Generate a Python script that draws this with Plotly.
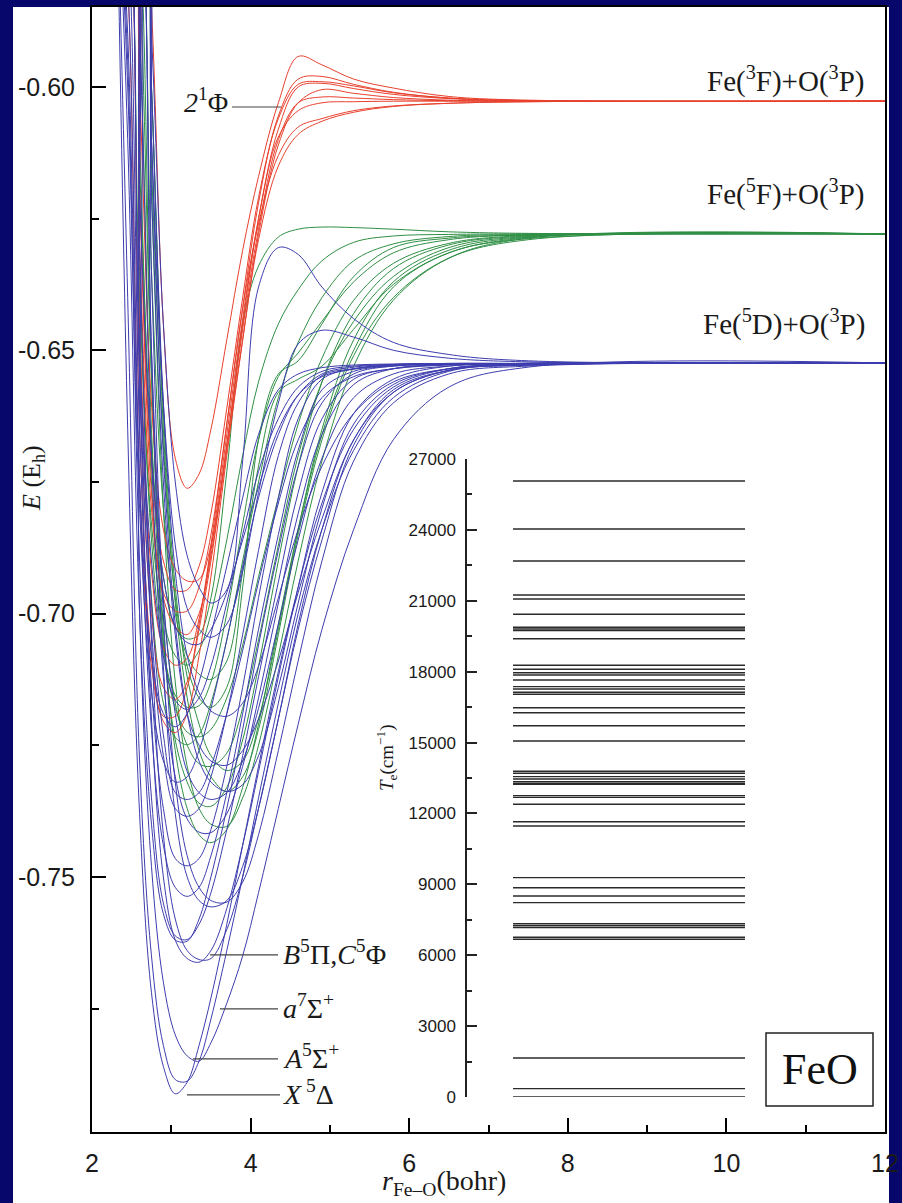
import plotly.graph_objects as go

# ---------------- data ----------------
R_GRID = [2.3, 2.45, 2.6, 2.75, 2.9, 3.05, 3.2, 3.35, 3.5, 3.7, 3.9, 4.1, 4.35, 4.6, 4.9, 5.3, 5.8, 6.5, 7.5, 12.0]

BLUE_CURVES = [
    [-0.55, -0.665, -0.738, -0.772, -0.786, -0.7912, -0.789, -0.782, -0.773, -0.759, -0.744, -0.729, -0.711, -0.695, -0.679, -0.665, -0.657, -0.6535, -0.6527, -0.6524],
    [-0.55, -0.640, -0.728, -0.765, -0.782, -0.7885, -0.7888, -0.785, -0.777, -0.764, -0.750, -0.735, -0.717, -0.700, -0.684, -0.669, -0.659, -0.654, -0.6528, -0.6524],
    [-0.55, -0.55, -0.700, -0.748, -0.770, -0.780, -0.784, -0.785, -0.7815, -0.774, -0.765, -0.753, -0.737, -0.721, -0.703, -0.684, -0.667, -0.657, -0.6532, -0.6524],
    [-0.55, -0.55, -0.655, -0.720, -0.750, -0.762, -0.7655, -0.7662, -0.764, -0.756, -0.744, -0.730, -0.712, -0.695, -0.677, -0.662, -0.6555, -0.653, -0.6526, -0.6524],
    [-0.55, -0.55, -0.630, -0.705, -0.742, -0.758, -0.764, -0.7657, -0.7655, -0.760, -0.750, -0.737, -0.720, -0.703, -0.686, -0.668, -0.658, -0.6538, -0.6527, -0.6524],
    [-0.55, -0.610, -0.700, -0.740, -0.757, -0.7620, -0.7622, -0.758, -0.750, -0.737, -0.722, -0.706, -0.688, -0.672, -0.660, -0.6545, -0.6530, -0.6526, -0.6525, -0.6524],
    [-0.55, -0.595, -0.690, -0.735, -0.755, -0.7612, -0.7619, -0.759, -0.753, -0.741, -0.727, -0.712, -0.694, -0.677, -0.663, -0.6555, -0.6535, -0.6527, -0.6525, -0.6524],
    [-0.55, -0.55, -0.56, -0.650, -0.710, -0.738, -0.750, -0.7545, -0.7557, -0.7545, -0.748, -0.737, -0.720, -0.702, -0.684, -0.667, -0.658, -0.6538, -0.6528, -0.6524],
    [-0.55, -0.55, -0.55, -0.635, -0.700, -0.732, -0.746, -0.752, -0.7545, -0.7548, -0.751, -0.742, -0.726, -0.709, -0.690, -0.671, -0.660, -0.6545, -0.6530, -0.6524],
    [-0.55, -0.58, -0.675, -0.722, -0.744, -0.7520, -0.7537, -0.752, -0.746, -0.734, -0.719, -0.703, -0.685, -0.669, -0.6575, -0.6540, -0.6530, -0.6526, -0.6525, -0.6524],
    [-0.55, -0.57, -0.665, -0.714, -0.737, -0.7465, -0.7479, -0.7465, -0.741, -0.729, -0.714, -0.697, -0.678, -0.663, -0.6555, -0.6535, -0.6528, -0.6526, -0.6525, -0.6524],
    [-0.55, -0.55, -0.59, -0.670, -0.712, -0.731, -0.739, -0.7415, -0.7416, -0.738, -0.729, -0.716, -0.698, -0.681, -0.666, -0.6565, -0.6535, -0.6527, -0.6525, -0.6524],
    [-0.55, -0.56, -0.655, -0.703, -0.727, -0.7370, -0.7385, -0.737, -0.731, -0.719, -0.704, -0.688, -0.670, -0.660, -0.6548, -0.6535, -0.6528, -0.6526, -0.6525, -0.6524],
    [-0.55, -0.55, -0.650, -0.698, -0.723, -0.7340, -0.7353, -0.734, -0.729, -0.719, -0.707, -0.694, -0.679, -0.667, -0.659, -0.6550, -0.6535, -0.6528, -0.6525, -0.6524],
    [-0.55, -0.55, -0.56, -0.650, -0.697, -0.719, -0.730, -0.734, -0.7353, -0.734, -0.728, -0.718, -0.702, -0.686, -0.6705, -0.6590, -0.6545, -0.6530, -0.6526, -0.6524],
    [-0.55, -0.55, -0.55, -0.61, -0.670, -0.702, -0.719, -0.728, -0.732, -0.7338, -0.7325, -0.727, -0.714, -0.698, -0.680, -0.664, -0.6565, -0.6535, -0.6527, -0.6524],
    [-0.55, -0.60, -0.680, -0.715, -0.728, -0.7320, -0.731, -0.726, -0.718, -0.705, -0.691, -0.678, -0.666, -0.6585, -0.6545, -0.6532, -0.6527, -0.6525, -0.6525, -0.6524],
    [-0.55, -0.55, -0.55, -0.620, -0.675, -0.704, -0.719, -0.725, -0.728, -0.7288, -0.726, -0.720, -0.709, -0.696, -0.682, -0.667, -0.6575, -0.6538, -0.6528, -0.6524],
    [-0.55, -0.59, -0.675, -0.708, -0.719, -0.7215, -0.719, -0.713, -0.704, -0.691, -0.678, -0.666, -0.6575, -0.6545, -0.6533, -0.6528, -0.6526, -0.6525, -0.6525, -0.6524],
    [-0.55, -0.55, -0.55, -0.600, -0.660, -0.692, -0.708, -0.715, -0.7185, -0.7195, -0.717, -0.710, -0.697, -0.684, -0.672, -0.662, -0.6560, -0.6535, -0.6527, -0.6524],
    [-0.55, -0.55, -0.55, -0.590, -0.645, -0.675, -0.689, -0.695, -0.698, -0.6955, -0.671, -0.638, -0.6305, -0.6318, -0.6380, -0.6440, -0.6485, -0.6508, -0.6520, -0.6524],
    [-0.55, -0.55, -0.55, -0.610, -0.660, -0.687, -0.699, -0.703, -0.7045, -0.702, -0.692, -0.677, -0.660, -0.6488, -0.6462, -0.6475, -0.6500, -0.6515, -0.6522, -0.6524],
    [-0.55, -0.56, -0.650, -0.690, -0.708, -0.7165, -0.7182, -0.716, -0.710, -0.698, -0.685, -0.673, -0.663, -0.6570, -0.6540, -0.6530, -0.6527, -0.6525, -0.6525, -0.6524],
    [-0.55, -0.55, -0.620, -0.670, -0.693, -0.7025, -0.7055, -0.7058, -0.703, -0.696, -0.686, -0.676, -0.665, -0.6585, -0.6550, -0.6536, -0.6529, -0.6526, -0.6525, -0.6524],
]

GREEN_CURVES = [
    [-0.55, -0.55, -0.615, -0.668, -0.693, -0.7025, -0.7048, -0.704, -0.697, -0.673, -0.645, -0.634, -0.6285, -0.6270, -0.6266, -0.6267, -0.6270, -0.6275, -0.6278, -0.6279],
    [-0.55, -0.55, -0.57, -0.655, -0.703, -0.726, -0.737, -0.742, -0.7435, -0.741, -0.733, -0.721, -0.702, -0.684, -0.666, -0.650, -0.638, -0.6315, -0.6288, -0.6279],
    [-0.55, -0.55, -0.59, -0.665, -0.705, -0.724, -0.732, -0.7360, -0.7366, -0.733, -0.724, -0.710, -0.690, -0.672, -0.656, -0.643, -0.6345, -0.6300, -0.6283, -0.6279],
    [-0.55, -0.55, -0.55, -0.60, -0.665, -0.698, -0.716, -0.726, -0.731, -0.7338, -0.731, -0.722, -0.704, -0.685, -0.667, -0.651, -0.640, -0.6325, -0.6290, -0.6279],
    [-0.55, -0.55, -0.55, -0.615, -0.668, -0.697, -0.710, -0.716, -0.7178, -0.714, -0.695, -0.667, -0.6545, -0.652, -0.645, -0.636, -0.6305, -0.6287, -0.6281, -0.6279],
    [-0.55, -0.55, -0.635, -0.686, -0.707, -0.7155, -0.7178, -0.7175, -0.713, -0.700, -0.683, -0.667, -0.655, -0.6505, -0.6445, -0.637, -0.6315, -0.6290, -0.6281, -0.6279],
    [-0.55, -0.55, -0.58, -0.655, -0.698, -0.717, -0.725, -0.7285, -0.729, -0.7265, -0.718, -0.705, -0.687, -0.670, -0.656, -0.6445, -0.6360, -0.6305, -0.6284, -0.6279],
    [-0.55, -0.56, -0.640, -0.683, -0.701, -0.708, -0.7098, -0.707, -0.700, -0.686, -0.670, -0.656, -0.645, -0.6385, -0.6330, -0.6295, -0.6283, -0.6280, -0.6279, -0.6279],
    [-0.55, -0.55, -0.55, -0.62, -0.680, -0.713, -0.729, -0.737, -0.7400, -0.7404, -0.735, -0.725, -0.708, -0.690, -0.671, -0.653, -0.6405, -0.6325, -0.6287, -0.6279],
    [-0.55, -0.55, -0.61, -0.675, -0.706, -0.718, -0.7225, -0.7234, -0.722, -0.716, -0.706, -0.693, -0.678, -0.664, -0.6515, -0.6405, -0.6335, -0.6297, -0.6282, -0.6279],
    [-0.55, -0.55, -0.56, -0.635, -0.680, -0.700, -0.708, -0.7115, -0.7125, -0.709, -0.692, -0.672, -0.658, -0.6555, -0.6530, -0.6460, -0.6375, -0.6315, -0.6286, -0.6279],
    [-0.55, -0.55, -0.645, -0.697, -0.717, -0.7235, -0.7249, -0.723, -0.717, -0.705, -0.690, -0.675, -0.659, -0.6485, -0.6400, -0.6330, -0.6298, -0.6284, -0.6280, -0.6279],
    [-0.55, -0.55, -0.55, -0.60, -0.662, -0.695, -0.712, -0.721, -0.727, -0.7298, -0.728, -0.720, -0.703, -0.684, -0.665, -0.648, -0.6370, -0.6310, -0.6285, -0.6279],
]

RED_CURVES = [
    [-0.55, -0.55, -0.55, -0.585, -0.645, -0.6705, -0.6762, -0.6735, -0.665, -0.648, -0.631, -0.617, -0.6030, -0.5942, -0.5958, -0.5985, -0.6002, -0.6018, -0.6025, -0.6027],
    [-0.55, -0.56, -0.665, -0.708, -0.7205, -0.7226, -0.719, -0.708, -0.693, -0.670, -0.648, -0.628, -0.611, -0.6030, -0.6005, -0.6012, -0.6020, -0.6025, -0.6027, -0.6027],
    [-0.55, -0.55, -0.655, -0.700, -0.7140, -0.7163, -0.713, -0.702, -0.687, -0.664, -0.642, -0.622, -0.6055, -0.5985, -0.5980, -0.5995, -0.6010, -0.6021, -0.6026, -0.6027],
    [-0.55, -0.55, -0.62, -0.677, -0.697, -0.7025, -0.7040, -0.700, -0.689, -0.668, -0.645, -0.625, -0.6080, -0.6000, -0.5993, -0.6003, -0.6014, -0.6022, -0.6026, -0.6027],
    [-0.55, -0.55, -0.60, -0.660, -0.684, -0.6915, -0.6938, -0.6935, -0.687, -0.668, -0.646, -0.627, -0.6100, -0.6030, -0.6019, -0.6021, -0.6024, -0.6026, -0.6027, -0.6027],
    [-0.55, -0.55, -0.645, -0.692, -0.7065, -0.7098, -0.7085, -0.701, -0.688, -0.666, -0.644, -0.625, -0.6095, -0.6045, -0.6030, -0.6028, -0.6027, -0.6027, -0.6027, -0.6027],
    [-0.55, -0.55, -0.630, -0.680, -0.696, -0.6995, -0.6995, -0.695, -0.685, -0.664, -0.642, -0.626, -0.6130, -0.6076, -0.6060, -0.6045, -0.6036, -0.6031, -0.6028, -0.6027],
    [-0.55, -0.58, -0.675, -0.710, -0.7195, -0.7195, -0.714, -0.703, -0.690, -0.669, -0.648, -0.629, -0.6150, -0.6090, -0.6065, -0.6048, -0.6037, -0.6031, -0.6028, -0.6027],
    [-0.55, -0.55, -0.62, -0.672, -0.690, -0.6955, -0.6955, -0.691, -0.681, -0.661, -0.640, -0.621, -0.6060, -0.5995, -0.5990, -0.5998, -0.6011, -0.6021, -0.6026, -0.6027],
]

TE_LEVELS = [0, 353, 1650, 6673, 6758, 7166, 7250, 7335, 8224, 8506, 8858, 9282,
             11469, 11651, 12387, 12682, 12752, 13232, 13275, 13345, 13458, 13557,
             13698, 13783, 15066, 15714, 16264, 16476, 17042, 17126, 17267, 17365,
             17648, 17859, 17957, 18100, 18269, 19396, 19735, 19806, 19877, 20428,
             21075, 21245, 22683, 24038, 26069]

X_TICKS = [2, 4, 6, 8, 10, 12]
X_MINOR = [3, 5, 7, 9, 11]
Y_TICKS = [-0.60, -0.65, -0.70, -0.75]
Y_TICKTEXT = ["-0.60", "-0.65", "-0.70", "-0.75"]
Y_MINOR = [-0.625, -0.675, -0.725, -0.775]
TE_TICKS = [0, 3000, 6000, 9000, 12000, 15000, 18000, 21000, 24000, 27000]
TE_TICKTEXT = ["0", "3000", "6000", "9000", "12000", "15000", "18000", "21000", "24000", "27000"]
TE_MINOR = [1500, 4500, 7500, 10500, 13500, 16500, 19500, 22500, 25500]

ASYMPTOTE_LABELS = ["Fe(<sup>3</sup>F)+O(<sup>3</sup>P)",
                    "Fe(<sup>5</sup>F)+O(<sup>3</sup>P)",
                    "Fe(<sup>5</sup>D)+O(<sup>3</sup>P)"]
STATE_LABELS = ["<i>B</i><sup>5</sup>Π,<i>C</i><sup>5</sup>Φ",
                "<i>a</i><sup>7</sup>Σ<sup>+</sup>",
                "<i>A</i><sup>5</sup>Σ<sup>+</sup>",
                "<i>X</i><sup> 5</sup>Δ"]

# ---------------- layout helpers (pixel -> axis coords) ----------------
def X(px):
    return 2 + (px - 92) / 79.3

def Y(py):
    return -0.60 - (py - 87) * 0.05 / 263.3

def PX(px):
    return (px - 92) / 793.0

def PY(py):
    return (1132 - py) / 1125.0

BLUE = "#3d3daf"
GREEN = "#2f8f45"
RED = "#e8412e"
SERIF = "Liberation Serif, Times New Roman, serif"
SANS = "Liberation Sans, Arial, sans-serif"

fig = go.Figure()

for curves, col in ((GREEN_CURVES, GREEN), (RED_CURVES, RED), (BLUE_CURVES, BLUE)):
    for ys in curves:
        fig.add_trace(go.Scatter(x=R_GRID, y=ys, mode="lines",
                                 line=dict(color=col, width=1, shape="spline", smoothing=1.0),
                                 hoverinfo="skip", showlegend=False))

# inset level lines
lx, ly = [], []
for te in TE_LEVELS:
    lx += [0.1655, 1.0, None]
    ly += [te, te, None]
fig.add_trace(go.Scatter(x=lx, y=ly, mode="lines", xaxis="x2", yaxis="y2",
                         line=dict(color="#2a2a2a", width=1.4), hoverinfo="skip",
                         showlegend=False))

shapes = [
    dict(type="rect", xref="paper", yref="paper", x0=PX(13), x1=PX(889),
         y0=PY(1210), y1=PY(7), fillcolor="white", line=dict(width=0), layer="below"),
    dict(type="rect", xref="x", yref="y", x0=X(766), x1=X(873), y0=Y(1106), y1=Y(1033),
         line=dict(color="#222", width=1.5), fillcolor="white"),
]
leaders = [(232, 281, 107), (210, 278, 955), (220, 278, 1009), (193, 278, 1059), (187, 280, 1095)]
for x0, x1, yy in leaders:
    shapes.append(dict(type="line", xref="x", yref="y", x0=X(x0), x1=X(x1), y0=Y(yy), y1=Y(yy),
                       line=dict(color="#444", width=1.2)))

ann = []
for txt, yy in zip(ASYMPTOTE_LABELS, [80, 193, 323]):
    ann.append(dict(text=txt, xref="x", yref="y", x=X(867), y=Y(yy), xanchor="right",
                    yanchor="middle", showarrow=False, font=dict(family=SERIF, size=29, color="#1a1a1a")))
ann.append(dict(text="<i>2</i><sup>1</sup>Φ", xref="x", yref="y", x=X(230), y=Y(101),
                xanchor="right", yanchor="middle", showarrow=False,
                font=dict(family=SERIF, size=28, color="#1a1a1a")))
for txt, yy in zip(STATE_LABELS, [955, 1009, 1059, 1095]):
    ann.append(dict(text=txt, xref="x", yref="y", x=X(281), y=Y(yy - 2), xanchor="left",
                    yanchor="middle", showarrow=False, font=dict(family=SERIF, size=28, color="#1a1a1a")))
ann.append(dict(text="FeO", xref="x", yref="y", x=X(819.5), y=Y(1070), xanchor="center",
                yanchor="middle", showarrow=False, font=dict(family=SERIF, size=44, color="#111")))
ann.append(dict(text="<i>E</i> (E<sub>h</sub>)", xref="paper", yref="paper", x=PX(33), y=PY(478),
                textangle=-90, showarrow=False, xanchor="center", yanchor="middle",
                font=dict(family=SERIF, size=26, color="#1a1a1a")))
ann.append(dict(text="<i>r</i><sub>Fe–O</sub>(bohr)", xref="paper", yref="paper", x=PX(444), y=PY(1183),
                showarrow=False, xanchor="center", yanchor="middle",
                font=dict(family=SERIF, size=28, color="#1a1a1a")))
ann.append(dict(text="<i>T</i><sub>e</sub>(cm<sup>−1</sup>)", xref="paper", yref="paper", x=PX(386), y=PY(758),
                textangle=-90, showarrow=False, xanchor="center", yanchor="middle",
                font=dict(family=SERIF, size=19, color="#1a1a1a")))

fig.update_layout(
    template="none",
    width=902, height=1203,
    margin=dict(l=92, r=17, t=7, b=71, pad=0, autoexpand=False),
    paper_bgcolor="#07076b", plot_bgcolor="white",
    showlegend=False,
    shapes=shapes, annotations=ann,
    xaxis=dict(range=[2, 12], tickvals=X_TICKS, ticks="inside", ticklen=14, tickwidth=2,
               tickcolor="black", showline=True, linecolor="black", linewidth=2, mirror=True,
               showgrid=False, zeroline=False, ticklabelstandoff=8, automargin=False,
               tickfont=dict(family=SANS, size=25, color="#1a1a1a"),
               minor=dict(tickvals=X_MINOR, ticks="inside", ticklen=7, tickwidth=2, tickcolor="black")),
    yaxis=dict(range=[-0.79845, -0.58481], tickvals=Y_TICKS, ticktext=Y_TICKTEXT, ticks="inside",
               ticklen=14, tickwidth=2, tickcolor="black", showline=True, linecolor="black",
               linewidth=2, mirror=True, showgrid=False, zeroline=False, ticklabelstandoff=10,
               automargin=False,
               tickfont=dict(family=SANS, size=25, color="#1a1a1a"),
               minor=dict(tickvals=Y_MINOR, ticks="inside", ticklen=7, tickwidth=2, tickcolor="black")),
    xaxis2=dict(domain=[PX(467), PX(745)], range=[0, 1], anchor="y2", visible=False,
                automargin=False),
    yaxis2=dict(domain=[PY(1097), PY(459)], range=[0, 27000], anchor="x2", tickvals=TE_TICKS,
                ticktext=TE_TICKTEXT,
                ticks="inside", ticklen=10, tickwidth=1.5, tickcolor="#222", showline=True,
                linecolor="#222", linewidth=1.5, showgrid=False, zeroline=False, automargin=False,
                ticklabelstandoff=6, tickfont=dict(family=SANS, size=17, color="#1a1a1a"),
                minor=dict(tickvals=TE_MINOR, ticks="inside", ticklen=5, tickwidth=1.5, tickcolor="#222")),
)

fig.write_html("out.html", config={"displayModeBar": False},
               post_script="document.body.style.margin='0px';")
